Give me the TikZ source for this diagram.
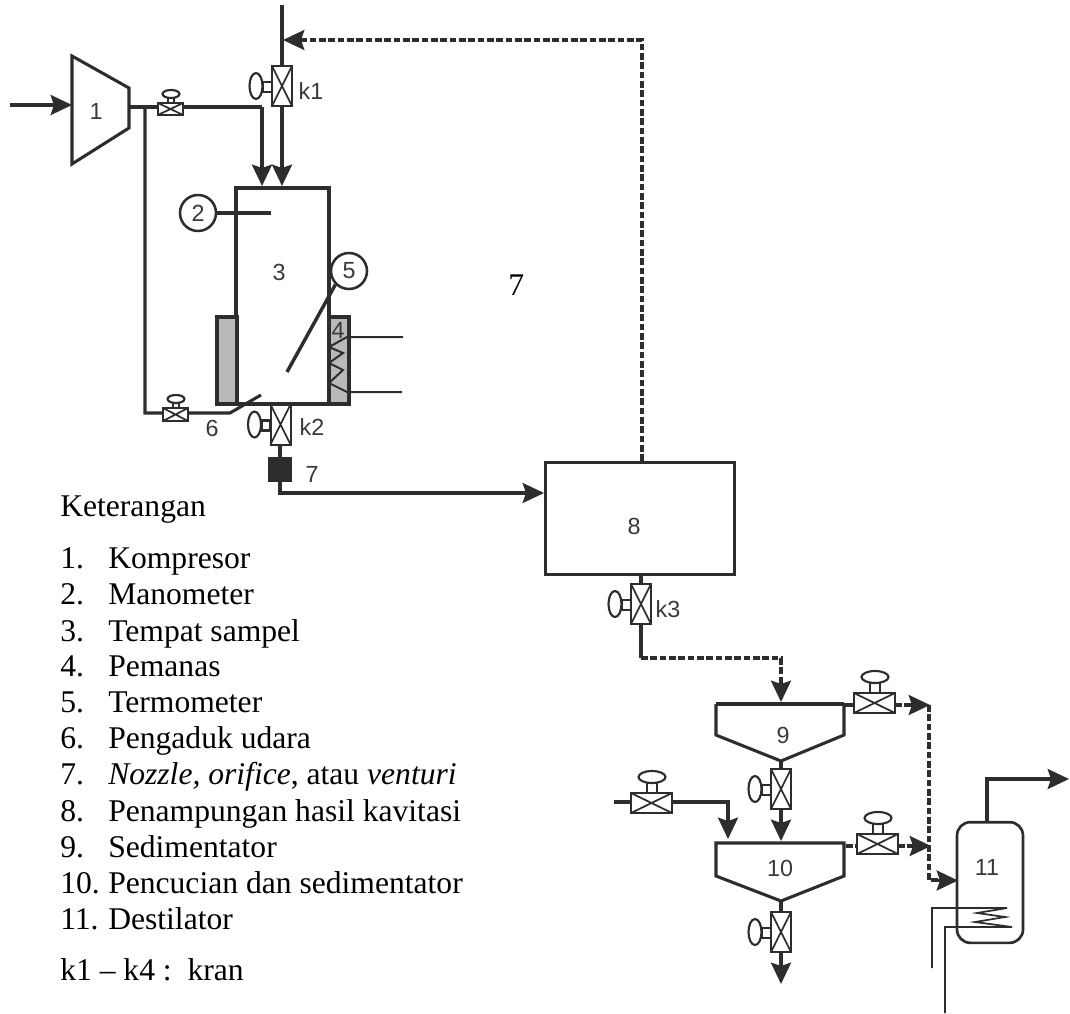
\documentclass[tikz,border=0pt]{standalone}
\usepackage{fontspec}
\setmainfont{Liberation Serif}
\newfontfamily\arialf{Liberation Sans}
\usetikzlibrary{arrows.meta}
\definecolor{ink}{HTML}{2E2C2C}
\definecolor{lab}{HTML}{3A3838}
\tikzset{
 pipe/.style={draw=ink,line width=2.3pt,line join=miter},
 thickl/.style={draw=ink,line width=2.3pt,line join=miter},
 thinl/.style={draw=ink,line width=1.3pt},
 dashl/.style={pipe,dash pattern=on 4.9pt off 2.1pt},
 tiparrow/.style={-{Stealth[length=16pt,width=15pt,inset=2.5pt]}},
 lbl/.style={font=\arialf\fontsize{17.5}{19}\selectfont,text=lab,inner sep=0pt},
 txt/.style={font=\fontsize{23.7}{26}\selectfont,text=black,inner sep=0pt,anchor=base west},
 vbox/.style={draw=ink,line width=1.5pt,fill=white},
 knob/.style={draw=ink,line width=1.6pt,fill=white},
 gauge/.style={circle,draw=ink,line width=1.9pt,fill=white,minimum size=27pt,inner sep=0pt,font=\arialf\fontsize{17.5}{19}\selectfont,text=lab},
}
\newcommand{\vvalve}[2]{%
 \draw[knob] (#1-19,#2-4) rectangle (#1-10,#2+6);
 \draw[knob] (#1-26,#2) ellipse [x radius=6.5,y radius=13];
 \draw[vbox] (#1-10,#2-20) rectangle (#1+10,#2+20);
 \draw[thinl] (#1-10,#2-20) -- (#1+10,#2+20) (#1+10,#2-20) -- (#1-10,#2+20);
}
\newcommand{\hvalve}[4]{%
 \draw[vbox] (#1-#3,#2-#4) rectangle (#1+#3,#2+#4);
 \draw[thinl] (#1-#3,#2-#4) -- (#1+#3,#2+#4) (#1+#3,#2-#4) -- (#1-#3,#2+#4);
}
% cx, box top, ellipse rx, ellipse ry, stem height
\newcommand{\hhandle}[5]{%
 \draw[knob] (#1-#3*0.38,#2-#5) rectangle (#1+#3*0.38,#2);
 \draw[knob] (#1,#2-#5-#4) ellipse [x radius=#3,y radius=#4];
}
\begin{document}
\begin{tikzpicture}[x=0.75pt,y=-0.75pt]
\useasboundingbox (0,0) rectangle (1070,1013);
\coordinate (inA) at (10,105);
\coordinate (topK1) at (282,5);
\coordinate (topEnd) at (283,40);
\coordinate (c1a) at (262,107);
\coordinate (c1b) at (145,107);
\coordinate (c1c) at (145,413);
\coordinate (c1d) at (230,413);
\coordinate (c1e) at (261,395);

% compressor
\draw[thickl] (72,56) -- (129,88) -- (129,128) -- (72,164) -- cycle;
\node[lbl] (n1) at (96,111) {1};
\draw[pipe,tiparrow] (inA) -- (72,105);
\draw[pipe] (129,107) -- (c1a);
\draw[pipe,tiparrow] (c1a) -- (262,186);
\hhandle{171}{103}{8.5}{4}{5}
\hvalve{170.5}{109}{12.5}{6}
% branch
\draw[pipe] (c1b) -- (c1c) -- (c1d) -- (c1e);
\hhandle{176}{408}{8.5}{4}{5}
\hvalve{175.5}{414.5}{12.5}{6.5}

% dashed recycle
\draw[dashl] (642,461) -- (642,40) -- (296,40);
\draw[pipe,tiparrow] (302,40) -- (topEnd);
% k1 line
\draw[pipe] (topK1) -- (282,66);
\draw[pipe,tiparrow] (282,106) -- (282,186);
\vvalve{282}{86}
\node[lbl] at (311,91) {k1};

% vessel 3 + heaters
\draw[thickl] (236,403) -- (236,188) -- (329,188) -- (329,403);
\draw[thickl,fill=gray!55] (217,317) rectangle (237,404);
\draw[thickl,fill=gray!55] (329,317) rectangle (349,404);
\draw[thickl] (217,404) -- (349,404);
\node[lbl] at (279,272) {3};
\node[lbl] at (338,330) {4};
\draw[thinl,line width=1.5pt] (403,337) -- (347,337) -- (329,347) -- (343,353) -- (329,363) -- (343,370) -- (329,383) -- (347,392) -- (402,392);
% gauges
\node[gauge] (g2) at (198,213) {2};
\draw[thickl] (g2.east) -- (271,213);
\node[gauge] (g5) at (349,271) {5};
\draw[thickl,line width=2.6pt] (g5.south west) -- (287,372);

\node[lbl] at (212,428) {6};
% k2
\vvalve{280.5}{424.5}
\node[lbl] at (312,427) {k2};
\draw[pipe] (280,444) -- (280,457);
\node[draw=none,fill=ink,minimum width=18pt,minimum height=19pt,inner sep=0pt] (noz) at (280,469.5) {};
\node[lbl] at (312,474) {7};
\draw[pipe,tiparrow] (280,482) -- (280,493) -- (544,493);

% box 8
\node[draw=ink,line width=2.2pt,fill=white,minimum width=142pt,minimum height=84pt,inner sep=0pt] (b8) at (640,518.5) {};
\node[lbl] at (634,526) {8};
\draw[pipe] (641,575) -- (641,584);
\vvalve{641}{604}
\node[lbl] at (668,609) {k3};
\draw[pipe] (641,624) -- (641,658);
\draw[dashl] (641,658) -- (781,658) -- (781,685);
\draw[pipe,tiparrow] (781,680) -- (781,702);

% tank 9
\draw[thickl,line width=2.8pt] (716,704) -- (844,704);
\draw[thickl] (716,704) -- (716,735) -- (781,761) -- (844,735) -- (844,704);
\node[lbl] at (783,735) {9};
\draw[pipe] (781,761) -- (781,769);
\vvalve{781}{789}
\draw[pipe,tiparrow] (781,809) -- (781,841);
\draw[pipe] (844,705) -- (854,705);
\hhandle{875}{693}{13.5}{6}{10}
\hvalve{874.5}{703}{20.5}{10}
\draw[dashl] (895,705) -- (912,705);
\draw[pipe,tiparrow] (908,705) -- (930,705);
\draw[dashl] (929,705) -- (929,880) -- (940,880);
\draw[pipe,tiparrow] (938,880.5) -- (958,880.5);

% tank 10
\draw[thickl] (716,843) -- (844,843) -- (844,876) -- (781,901) -- (716,876) -- cycle;
\node[lbl] at (780,868) {10};
\draw[pipe] (781,901) -- (781,912);
\vvalve{781}{932}
\draw[pipe,tiparrow] (781,952) -- (781,984);
% left feed
\draw[pipe] (614,802) -- (631,802);
\draw[pipe,tiparrow] (672,802) -- (728,802) -- (728,839);
\hhandle{652}{793}{13.5}{6}{10}
\hvalve{651.5}{803}{20.5}{10}
% right of 10
\draw[dashl] (846,846) -- (857,846);
\hhandle{878}{834}{13.5}{6}{10}
\hvalve{877.5}{844}{20.5}{10}
\draw[dashl] (898,846) -- (912,846);
\draw[pipe,tiparrow] (908,846) -- (931,846);

% vessel 11
\node[draw=ink,line width=2pt,rounded corners=10pt,minimum width=49.5pt,minimum height=90.5pt,inner sep=0pt] (v11) at (990,882.5) {};
\node[lbl] at (987,867) {11};
\draw[pipe,tiparrow] (987,822) -- (987,779) -- (1069,779);
\draw[thinl] (932,968) -- (932,908) -- (1007,908) -- (977,913) -- (1005,917) -- (975,922) -- (1012,927) -- (945,927) -- (945,1013);

% legend
\node[txt] at (60,516) {Keterangan};
\node[txt] at (60,568) {1.};
\node[txt] at (108,568) {Kompresor};
\node[txt] at (60,604) {2.};
\node[txt] at (108,604) {Manometer};
\node[txt] at (60,641) {3.};
\node[txt] at (108,641) {Tempat sampel};
\node[txt] at (60,676) {4.};
\node[txt] at (108,676) {Pemanas};
\node[txt] at (60,712) {5.};
\node[txt] at (108,712) {Termometer};
\node[txt] at (60,748) {6.};
\node[txt] at (108,748) {Pengaduk udara};
\node[txt] at (60,784) {7.};
\node[txt] at (108,784) {\textit{Nozzle, orifice}, atau \textit{venturi}};
\node[txt] at (60,821) {8.};
\node[txt] at (108,821) {Penampungan hasil kavitasi};
\node[txt] at (60,857) {9.};
\node[txt] at (108,857) {Sedimentator};
\node[txt] at (60,893) {10.};
\node[txt] at (108,893) {Pencucian dan sedimentator};
\node[txt] at (60,929) {11.};
\node[txt] at (108,929) {Destilator};
\node[txt] at (60,980) {k1 – k4 :\ \ kran};
\node[txt] at (508,295) {7};
\end{tikzpicture}
\end{document}
